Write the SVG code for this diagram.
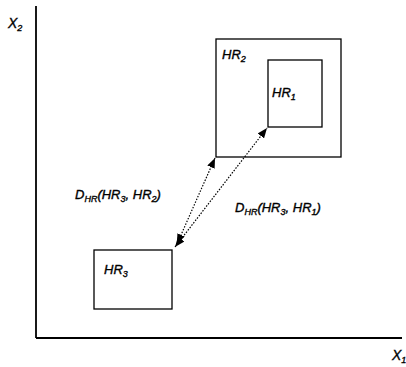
<svg xmlns="http://www.w3.org/2000/svg" width="406" height="367" viewBox="0 0 406 367">
<style>
.box{fill:none;stroke:#000;stroke-width:1.3}
.axis{fill:none;stroke:#000;stroke-width:1.8}
.t{font-family:"Liberation Sans",Arial,sans-serif;font-style:italic;font-size:13px;fill:#000;stroke:#000;stroke-width:0.35}
.s{font-size:9px}
.conn{fill:none;stroke:#000;stroke-width:1.2;stroke-dasharray:1.5 1.5}
</style>
<defs>
<marker id="ah" viewBox="0 0 10 8" refX="10" refY="4" markerWidth="10" markerHeight="8" markerUnits="userSpaceOnUse" orient="auto-start-reverse">
<path d="M0,0 L10,4 L0,8 Z" fill="#000"/>
</marker>
</defs>
<g id="axes">
<line class="axis" x1="36" y1="6" x2="36" y2="338"/>
<line class="axis" x1="36" y1="338" x2="402" y2="338"/>
<text class="t" x="8" y="28" style="font-size:14px">X<tspan class="s" dy="3">2</tspan></text>
<text class="t" x="392" y="360" style="font-size:14px">X<tspan class="s" dy="3">1</tspan></text>
</g>
<g id="HR2">
<rect class="box" x="216" y="39" width="125" height="118"/>
<text class="t" x="222" y="59">HR<tspan class="s" dy="3">2</tspan></text>
</g>
<g id="HR1">
<rect class="box" x="268" y="60" width="54" height="67"/>
<text class="t" x="272" y="97">HR<tspan class="s" dy="3">1</tspan></text>
</g>
<g id="HR3">
<rect class="box" x="94" y="250" width="78" height="59"/>
<text class="t" x="104" y="274">HR<tspan class="s" dy="3">3</tspan></text>
</g>
<g id="connectors">
<line class="conn" x1="177" y1="244" x2="215" y2="158" marker-start="url(#ah)" marker-end="url(#ah)"/>
<line class="conn" x1="175" y1="247" x2="267" y2="128" marker-start="url(#ah)" marker-end="url(#ah)"/>
</g>
<g id="labels">
<text class="t" x="75" y="199">D<tspan class="s" dy="3">HR</tspan><tspan dy="-3">(HR</tspan><tspan class="s" dy="3">3</tspan><tspan dy="-3">, HR</tspan><tspan class="s" dy="3">2</tspan><tspan dy="-3">)</tspan></text>
<text class="t" x="235" y="212">D<tspan class="s" dy="3">HR</tspan><tspan dy="-3">(HR</tspan><tspan class="s" dy="3">3</tspan><tspan dy="-3">, HR</tspan><tspan class="s" dy="3">1</tspan><tspan dy="-3">)</tspan></text>
</g>
</svg>
